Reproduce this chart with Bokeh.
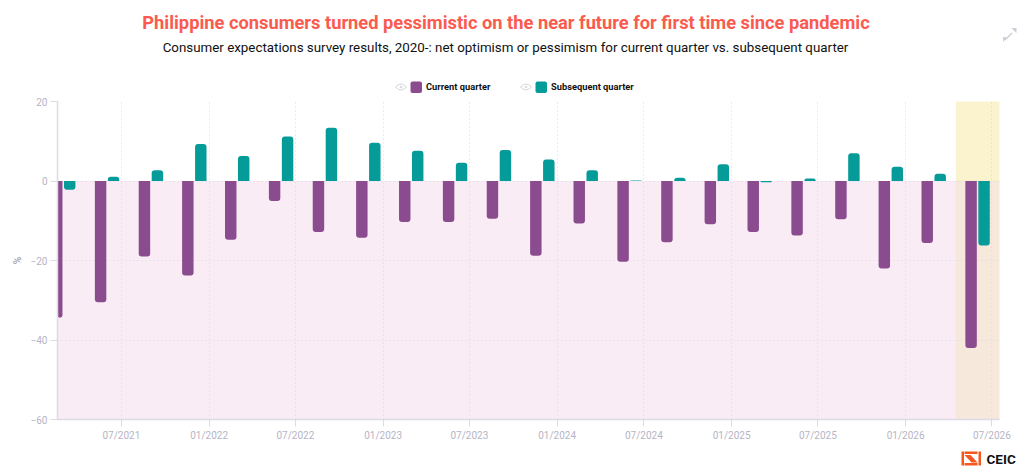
import pandas as pd
from bokeh.core.properties import value
from bokeh.embed import file_html
from bokeh.layouts import column
from bokeh.resources import INLINE
from bokeh.plotting import figure
from bokeh.models import (ColumnDataSource, BoxAnnotation, FixedTicker,
                          Range1d, CDSView, BooleanFilter)
from bokeh.transform import dodge

TITLE = "Philippine consumers turned pessimistic on the near future for first time since pandemic"
SUBTITLE = "Consumer expectations survey results, 2020-: net optimism or pessimism for current quarter vs. subsequent quarter"

quarters = ["2021-03-01", "2021-06-01", "2021-09-01", "2021-12-01", "2022-03-01", "2022-06-01",
            "2022-09-01", "2022-12-01", "2023-03-01", "2023-06-01", "2023-09-01", "2023-12-01",
            "2024-03-01", "2024-06-01", "2024-09-01", "2024-12-01", "2025-03-01", "2025-06-01",
            "2025-09-01", "2025-12-01", "2026-03-01", "2026-06-01"]
current = [-34.4, -30.5, -19.0, -23.8, -14.8, -5.0, -12.8, -14.3, -10.3, -10.3, -9.5,
           -18.8, -10.7, -20.3, -15.4, -10.9, -12.8, -13.7, -9.6, -22.0, -15.6, -42.0]
subsequent = [-2.2, 1.1, 2.7, 9.3, 6.3, 11.2, 13.4, 9.6, 7.6, 4.6, 7.8,
              5.4, 2.7, 0.1, 0.8, 4.2, -0.3, 0.6, 7.0, 3.6, 1.8, -16.2]
x_ticks = ["07/2021", "01/2022", "07/2022", "01/2023", "07/2023", "01/2024",
           "07/2024", "01/2025", "07/2025", "01/2026", "07/2026"]
y_ticks = [-60, -40, -20, 0, 20]
series_names = ["Current quarter", "Subsequent quarter"]

PURPLE, TEAL = "#8a4b8f", "#049b98"
DAY = 86400000
AXIS = "#dcdae4"
LABEL = "#b6b4c6"
GRID = "#d8d6e0"
W, H = 1024, 473
HEAD_H, FOOT_Y = 93, 445


def ms(s):
    return pd.Timestamp(s).value // 10**6


def strip(y0, y1):
    """A figure whose frame fills it, addressed in page pixels."""
    f = figure(width=W, height=y1 - y0, output_backend="svg", toolbar_location=None,
               x_range=Range1d(0, W), y_range=Range1d(y1, y0), frame_align=False,
               min_border=0, outline_line_color=None, x_axis_location=None, y_axis_location=None)
    f.grid.visible = False
    return f


def text(f, x, y, s, size, color="#000000", style="normal", align="center"):
    f.text(x=[x], y=[y], text=[s], text_font=value("Roboto"), text_font_size=size, text_color=color,
           text_font_style=style, text_align=align, text_baseline="middle")


# header: title, subtitle, legend, expand icon
head = strip(0, HEAD_H)
text(head, 505.5, 21.5, TITLE, "18.3px", "#fb5b4f", "bold")
text(head, 505, 47, SUBTITLE, "13.35px", "#111111")
for cx, color, lab in zip((400.5, 525.5), (PURPLE, TEAL), series_names):
    head.patch([cx - 5.5, cx - 2.5, cx, cx + 2.5, cx + 5.5, cx + 2.5, cx, cx - 2.5],
               [86.5, 84.2, 83.5, 84.2, 86.5, 88.8, 89.5, 88.8], fill_color="#ffffff", line_color="#d6d4dd")
    head.patch([cx - 1.5, cx, cx + 1.5, cx], [86.5, 85, 86.5, 88], fill_color="#d6d4dd", line_color=None)
    head.quad(left=cx + 9.5, right=cx + 21, top=81, bottom=92.5, fill_color=color, line_color=None,
              border_radius=2)
    text(head, cx + 25, 86, lab, "9.3px", "#111111", "bold", "left")
ICON = "#cfcdd8"
head.patch([1002.5, 1002.5, 1007, 1004.7], [41.5, 36.5, 37, 39], fill_color=ICON, line_color=None)
head.patch([1004, 1011, 1012, 1005], [39, 32, 33, 40], fill_color=ICON, line_color=None)
head.patch([1011, 1016, 1016, 1013.3], [27.5, 27.5, 32.5, 30], fill_color=ICON, line_color=None)

# main chart
x_start, x_end = ms("2021-02-17"), ms("2026-07-17")
band_start = ms("2026-04-17")
tick_ms = [ms(pd.to_datetime(t, format="%m/%Y")) for t in x_ticks]

p = figure(width=W, height=FOOT_Y - HEAD_H, output_backend="svg", toolbar_location=None,
           x_range=Range1d(x_start, x_end), y_range=Range1d(-60, 20), frame_align=False,
           min_border_left=57, min_border_right=25, min_border_top=8, min_border_bottom=26,
           outline_line_color=None, background_fill_color="white", border_fill_color="white")

for args in [dict(bottom=-60, top=0, fill_color="#f9ecf5"),
             dict(left=band_start, bottom=0, top=20, fill_color="#faf3cd", line_color="#f8f0bd"),
             dict(left=band_start, bottom=-60, top=0, fill_color="#f7e8dc", line_color="#f5e6cf")]:
    args.setdefault("line_color", None)
    p.add_layout(BoxAnnotation(level="image", fill_alpha=1, **args))

src = ColumnDataSource(dict(x=[ms(q) for q in quarters], cur=current, sub=subsequent))
R = 3
offset = 13.6 * DAY
width = 24 * DAY
for col, color, off in [("cur", PURPLE, -offset), ("sub", TEAL, offset)]:
    vals = src.data[col]
    pos = CDSView(filter=BooleanFilter([v >= 0 for v in vals]))
    neg = CDSView(filter=BooleanFilter([v < 0 for v in vals]))
    p.vbar(x=dodge("x", off, range=p.x_range), top=col, bottom=0, width=width, source=src, view=pos,
           fill_color=color, line_color=None, border_radius=(R, R, 0, 0))
    p.vbar(x=dodge("x", off, range=p.x_range), top=col, bottom=0, width=width, source=src, view=neg,
           fill_color=color, line_color=None, border_radius=(0, 0, R, R))

xa, ya = p.xaxis[0], p.yaxis[0]
xa.ticker = FixedTicker(ticks=tick_ms)
xa.major_label_overrides = {t: l for t, l in zip(tick_ms, x_ticks)}
ya.ticker = FixedTicker(ticks=y_ticks)
for ax in (xa, ya):
    ax.axis_line_color = AXIS
    ax.axis_line_width = 1.5
    ax.major_tick_line_color = AXIS
    ax.major_tick_out = 7
    ax.major_tick_in = 0
    ax.minor_tick_line_color = None
    ax.major_label_text_color = LABEL
    ax.major_label_text_font = "Roboto"
    ax.major_label_text_font_size = "10px"
xa.major_label_standoff = 3
ya.major_label_standoff = 3
ya.axis_label = "%"
ya.axis_label_text_color = "#8f8da3"
ya.axis_label_text_font = "Roboto"
ya.axis_label_text_font_size = "10px"
ya.axis_label_text_font_style = "normal"
ya.axis_label_standoff = 5
for g in (p.xgrid[0], p.ygrid[0]):
    g.grid_line_color = GRID
    g.grid_line_dash = "1 3"
    g.grid_line_width = 1
    g.level = "underlay"

# footer: CEIC logo
foot = strip(FOOT_Y, H)
O = "#f4581f"
foot.quad(left=[961, 978, 964, 964], right=[963.5, 980.5, 977, 977], top=[451, 451, 451, 462.5],
          bottom=[465, 465, 453.5, 465], fill_color=O, line_color=None)
foot.patch([964, 970, 977, 971], [454.5, 454.5, 462, 462], fill_color=O, line_color=None)
text(foot, 986, 458, "CEIC", "13.5px", "#111111", "bold", "left")

page = column(head, p, foot, spacing=0)
open("out.html", "w").write(file_html(page, INLINE))
